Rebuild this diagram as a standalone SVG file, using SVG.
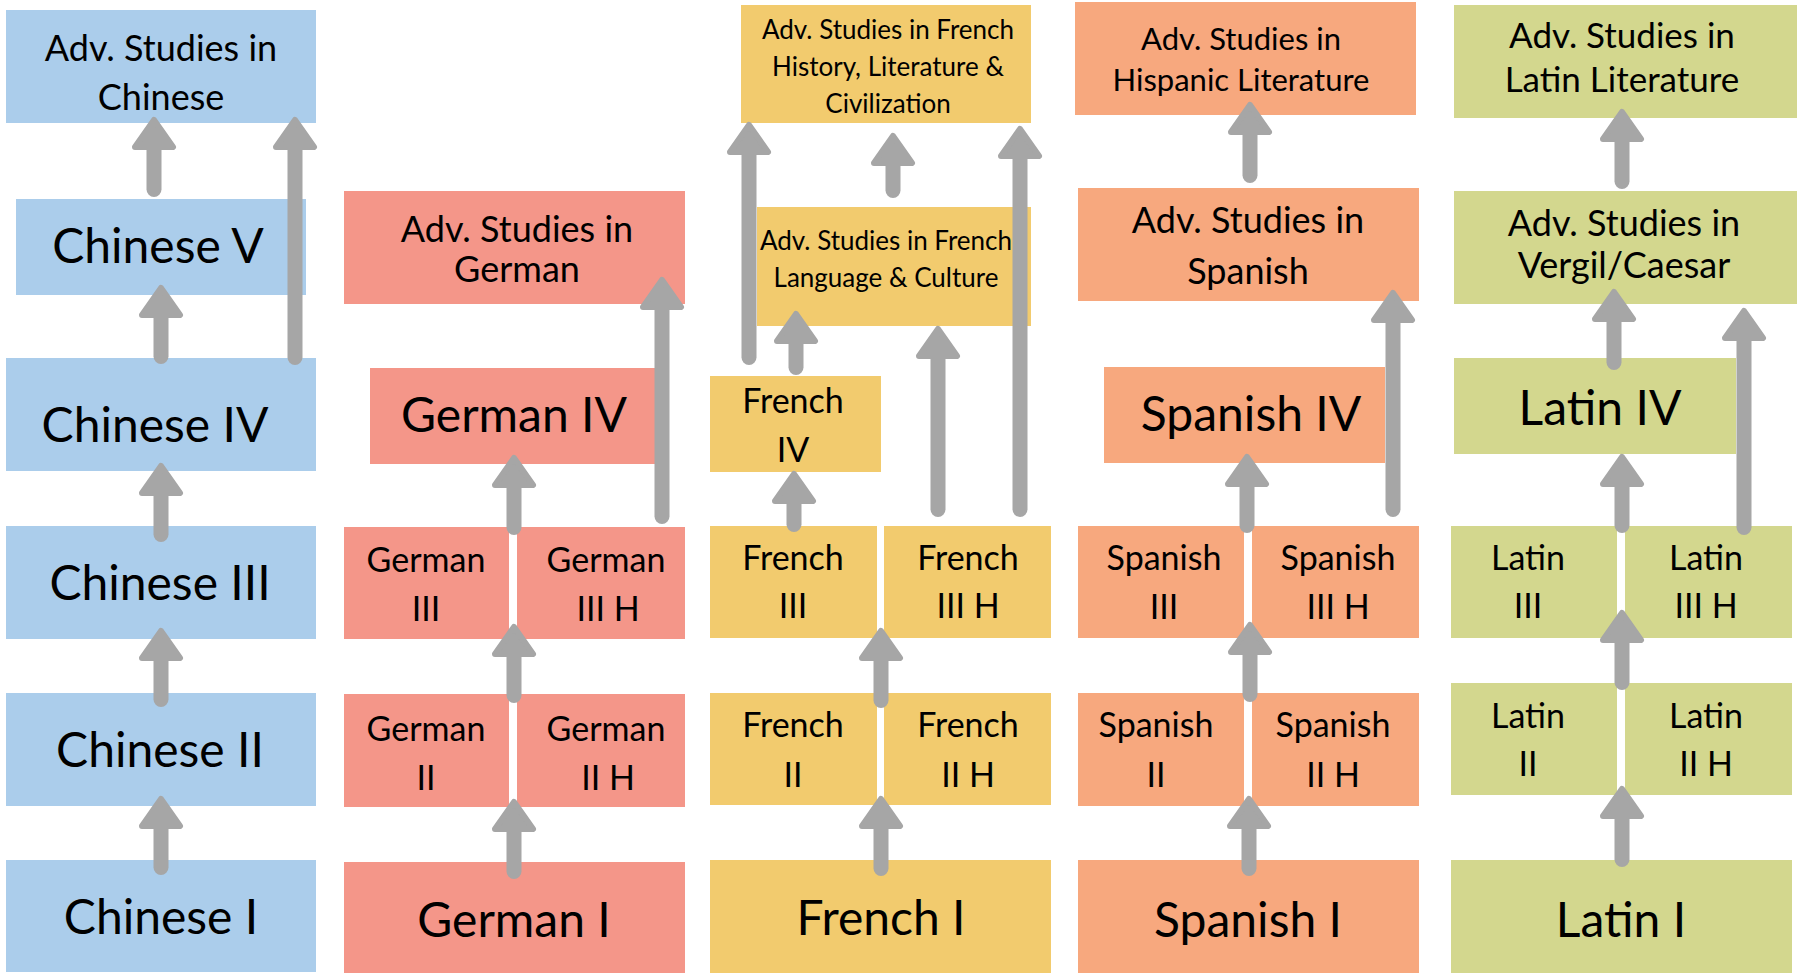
<svg xmlns="http://www.w3.org/2000/svg" width="1797" height="976" viewBox="0 0 1797 976">
<style>
text{font-family:Lato,"Open Sans","Liberation Sans",sans-serif;fill:#000;text-anchor:middle}
.zh{fill:#abcdeb}.de{fill:#f49689}.fr{fill:#f2cb6e}.es{fill:#f7a87e}.la{fill:#d3d78e}
.b{font-size:48px}.m{font-size:34px}.a{font-size:36px}.s{font-size:26px}
.conn path{stroke:#a6a6a6;stroke-width:15;stroke-linecap:round;fill:none}
</style>
<defs>
<marker id="ah" markerUnits="userSpaceOnUse" orient="auto" refX="0" refY="0" markerWidth="40" markerHeight="50" overflow="visible">
<path d="M0,-19 L27,0 L0,19 Z" fill="#a6a6a6" stroke="#a6a6a6" stroke-width="6" stroke-linejoin="round"/>
</marker>
</defs>
<rect width="1797" height="976" fill="#fff"/>

<!-- Chinese -->
<g id="zh-adv"><rect class="zh" x="6" y="10" width="310" height="113"/><text class="a" x="161" y="61">Adv. Studies in</text><text class="a" x="161" y="110">Chinese</text></g>
<g id="zh-5"><rect class="zh" x="16" y="199" width="290" height="96"/><text class="b" x="158" y="263">Chinese V</text></g>
<g id="zh-4"><rect class="zh" x="6" y="358" width="310" height="113"/><text class="b" x="155" y="442">Chinese IV</text></g>
<g id="zh-3"><rect class="zh" x="6" y="526" width="310" height="113"/><text class="b" x="160" y="600">Chinese III</text></g>
<g id="zh-2"><rect class="zh" x="6" y="693" width="310" height="113"/><text class="b" x="160" y="767">Chinese II</text></g>
<g id="zh-1"><rect class="zh" x="6" y="860" width="310" height="112"/><text class="b" x="161" y="934">Chinese I</text></g>

<!-- German -->
<g id="de-adv"><rect class="de" x="344" y="191" width="341" height="113"/><text class="a" x="517" y="242">Adv. Studies in</text><text class="a" x="517" y="282">German</text></g>
<g id="de-4"><rect class="de" x="370" y="368" width="285" height="96"/><text class="b" x="514" y="432">German IV</text></g>
<g id="de-3"><rect class="de" x="344" y="527" width="165" height="112"/><text class="m" x="426" y="572">German</text><text class="m" x="426" y="621">III</text></g>
<g id="de-3h"><rect class="de" x="517" y="527" width="168" height="112"/><text class="m" x="606" y="572">German</text><text class="m" x="608" y="621">III H</text></g>
<g id="de-2"><rect class="de" x="344" y="694" width="165" height="113"/><text class="m" x="426" y="741">German</text><text class="m" x="426" y="790">II</text></g>
<g id="de-2h"><rect class="de" x="517" y="694" width="168" height="113"/><text class="m" x="606" y="741">German</text><text class="m" x="608" y="790">II H</text></g>
<g id="de-1"><rect class="de" x="344" y="862" width="341" height="111"/><text class="b" x="514" y="937">German I</text></g>

<!-- French -->
<g id="fr-hist"><rect class="fr" x="741" y="5" width="290" height="118"/><text class="s" x="888" y="39">Adv. Studies in French</text><text class="s" x="888" y="76">History, Literature &amp;</text><text class="s" x="888" y="113">Civilization</text></g>
<g id="fr-lang"><rect class="fr" x="757" y="207" width="274" height="119"/><text class="s" x="886" y="250">Adv. Studies in French</text><text class="s" x="886" y="287">Language &amp; Culture</text></g>
<g id="fr-4"><rect class="fr" x="710" y="376" width="171" height="96"/><text class="m" x="793" y="413">French</text><text class="m" x="793" y="462">IV</text></g>
<g id="fr-3"><rect class="fr" x="710" y="526" width="167" height="112"/><text class="m" x="793" y="570">French</text><text class="m" x="793" y="618">III</text></g>
<g id="fr-3h"><rect class="fr" x="884" y="526" width="167" height="112"/><text class="m" x="968" y="570">French</text><text class="m" x="968" y="618">III H</text></g>
<g id="fr-2"><rect class="fr" x="710" y="693" width="167" height="112"/><text class="m" x="793" y="737">French</text><text class="m" x="793" y="787">II</text></g>
<g id="fr-2h"><rect class="fr" x="884" y="693" width="167" height="112"/><text class="m" x="968" y="737">French</text><text class="m" x="968" y="787">II H</text></g>
<g id="fr-1"><rect class="fr" x="710" y="860" width="341" height="113"/><text class="b" x="881" y="935">French I</text></g>

<!-- Spanish -->
<g id="es-lit"><rect class="es" x="1075" y="2" width="341" height="113"/><text x="1241" y="50" font-size="31">Adv. Studies in</text><text x="1241" y="91" font-size="31">Hispanic Literature</text></g>
<g id="es-adv"><rect class="es" x="1078" y="188" width="341" height="113"/><text class="a" x="1248" y="233">Adv. Studies in</text><text class="a" x="1248" y="284">Spanish</text></g>
<g id="es-4"><rect class="es" x="1104" y="367" width="281" height="96"/><text class="b" x="1251" y="431">Spanish IV</text></g>
<g id="es-3"><rect class="es" x="1078" y="526" width="166" height="112"/><text class="m" x="1164" y="570">Spanish</text><text class="m" x="1164" y="619">III</text></g>
<g id="es-3h"><rect class="es" x="1252" y="526" width="167" height="112"/><text class="m" x="1338" y="570">Spanish</text><text class="m" x="1338" y="619">III H</text></g>
<g id="es-2"><rect class="es" x="1078" y="693" width="166" height="113"/><text class="m" x="1156" y="737">Spanish</text><text class="m" x="1156" y="787">II</text></g>
<g id="es-2h"><rect class="es" x="1252" y="693" width="167" height="113"/><text class="m" x="1333" y="737">Spanish</text><text class="m" x="1333" y="787">II H</text></g>
<g id="es-1"><rect class="es" x="1078" y="860" width="341" height="113"/><text class="b" x="1248" y="937">Spanish I</text></g>

<!-- Latin -->
<g id="la-lit"><rect class="la" x="1454" y="5" width="343" height="113"/><text x="1622" y="48" font-size="35">Adv. Studies in</text><text x="1622" y="92" font-size="35">Latin Literature</text></g>
<g id="la-verg"><rect class="la" x="1454" y="191" width="343" height="113"/><text class="a" x="1624" y="236">Adv. Studies in</text><text class="a" x="1624" y="278">Vergil/Caesar</text></g>
<g id="la-4"><rect class="la" x="1454" y="358" width="282" height="96"/><text class="b" x="1600" y="425">Latin IV</text></g>
<g id="la-3"><rect class="la" x="1451" y="526" width="166" height="112"/><text class="m" x="1528" y="570">Latin</text><text class="m" x="1528" y="618">III</text></g>
<g id="la-3h"><rect class="la" x="1625" y="526" width="167" height="112"/><text class="m" x="1706" y="570">Latin</text><text class="m" x="1706" y="618">III H</text></g>
<g id="la-2"><rect class="la" x="1451" y="683" width="166" height="112"/><text class="m" x="1528" y="728">Latin</text><text class="m" x="1528" y="776">II</text></g>
<g id="la-2h"><rect class="la" x="1625" y="683" width="167" height="112"/><text class="m" x="1706" y="728">Latin</text><text class="m" x="1706" y="776">II H</text></g>
<g id="la-1"><rect class="la" x="1451" y="860" width="341" height="113"/><text class="b" x="1621" y="937">Latin I</text></g>

<g id="connectors" class="conn" marker-end="url(#ah)">
<!-- Chinese: tip +30 = base; bottom -7.5 -->
<path d="M154,189.5 V147" marker-end="url(#ah)"/>
<path d="M295,357.5 V147" marker-end="url(#ah)"/>
<path d="M161,356.5 V315" marker-end="url(#ah)"/>
<path d="M161,534.5 V493" marker-end="url(#ah)"/>
<path d="M161,699.5 V658" marker-end="url(#ah)"/>
<path d="M161,867.5 V826" marker-end="url(#ah)"/>
<!-- German -->
<path d="M514,527.5 V485" marker-end="url(#ah)"/>
<path d="M514,695.5 V654" marker-end="url(#ah)"/>
<path d="M514,871.5 V829" marker-end="url(#ah)"/>
<path d="M662,516.5 V307" marker-end="url(#ah)"/>
<!-- French -->
<path d="M749,357.5 V152" marker-end="url(#ah)"/>
<path d="M893,190.5 V163" marker-end="url(#ah)"/>
<path d="M1020,509.5 V156" marker-end="url(#ah)"/>
<path d="M796,367.5 V341" marker-end="url(#ah)"/>
<path d="M938,509.5 V356" marker-end="url(#ah)"/>
<path d="M794,524.5 V501" marker-end="url(#ah)"/>
<path d="M881,700.5 V658" marker-end="url(#ah)"/>
<path d="M881,868.5 V826" marker-end="url(#ah)"/>
<!-- Spanish -->
<path d="M1250,175.5 V132" marker-end="url(#ah)"/>
<path d="M1393,509.5 V320" marker-end="url(#ah)"/>
<path d="M1247,525.5 V484" marker-end="url(#ah)"/>
<path d="M1250,694.5 V652" marker-end="url(#ah)"/>
<path d="M1249,868.5 V826" marker-end="url(#ah)"/>
<!-- Latin -->
<path d="M1622,181.5 V139" marker-end="url(#ah)"/>
<path d="M1614,362.5 V319" marker-end="url(#ah)"/>
<path d="M1744,527.5 V338" marker-end="url(#ah)"/>
<path d="M1622,525.5 V484" marker-end="url(#ah)"/>
<path d="M1622,682.5 V640" marker-end="url(#ah)"/>
<path d="M1622,859.5 V816" marker-end="url(#ah)"/>
</g>
</svg>
